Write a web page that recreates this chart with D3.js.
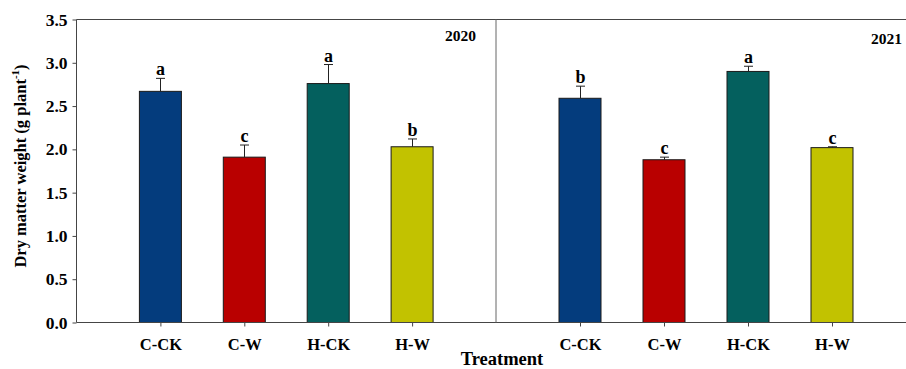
<!DOCTYPE html>
<html>
<head>
<meta charset="utf-8">
<script src="https://cdn.jsdelivr.net/npm/d3@7"></script>
<style>
  html, body { margin: 0; padding: 0; background: #fff; }
  svg { display: block; }
  text { font-family: "Liberation Serif", "Times New Roman", serif; font-weight: bold; fill: #000; }
</style>
</head>
<body>
<svg id="chart" width="906" height="369"></svg>
<script>
// Treatments and dry matter weight (g plant^-1), mean and standard error per year
const treatments = ["C-CK", "C-W", "H-CK", "H-W"];
const barColors = ["#043C7D", "#B90000", "#04605E", "#C2C200"];
const years = ["2020", "2021"];
const mean2020 = [2.67, 1.91, 2.76, 2.03];
const err2020 = [0.15, 0.14, 0.22, 0.09];
const sig2020 = ["a", "c", "a", "b"];
const mean2021 = [2.59, 1.88, 2.90, 2.02];
const err2021 = [0.14, 0.03, 0.06, 0.01];
const sig2021 = ["b", "c", "a", "c"];
const yTicks = [0, 0.5, 1.0, 1.5, 2.0, 2.5, 3.0, 3.5];

const svg = d3.select("#chart");
const lineColor = "#454545";
const plotTop = 19.5, plotBottom = 322.5;

const y = d3.scaleLinear().domain([0, 3.5]).range([plotBottom, plotTop]);

const panels = [
  { year: years[0], mean: mean2020, err: err2020, sig: sig2020, x0: 76.5, x1: 496, yearX: 476, yearY: 41 },
  { year: years[1], mean: mean2021, err: err2021, sig: sig2021, x0: 496, x1: 916, yearX: 902, yearY: 44 }
];

const barW = 42;

panels.forEach(p => {
  // positions 1..4 inside a 0..5 frame
  const x = d3.scaleLinear().domain([0, 5]).range([p.x0, p.x1]);
  const g = svg.append("g");

  // bars
  g.selectAll("rect.bar").data(treatments).join("rect")
    .attr("class", "bar")
    .attr("x", (d, i) => x(i + 1) - barW / 2)
    .attr("y", (d, i) => y(p.mean[i]))
    .attr("width", barW)
    .attr("height", (d, i) => y(0) - y(p.mean[i]))
    .attr("fill", (d, i) => barColors[i])
    .attr("stroke", "#1a1a1a")
    .attr("stroke-width", 1);

  // error bars (upper only) with significance letters
  treatments.forEach((d, i) => {
    const cx = Math.round(x(i + 1)) + 0.5;
    const yt = y(p.mean[i] + p.err[i]);
    g.append("line").attr("x1", cx).attr("x2", cx)
      .attr("y1", y(p.mean[i])).attr("y2", yt)
      .attr("stroke", "#222").attr("stroke-width", 1);
    g.append("line").attr("x1", cx - 4.5).attr("x2", cx + 4.5)
      .attr("y1", yt).attr("y2", yt)
      .attr("stroke", "#222").attr("stroke-width", 1);
    g.append("text")
      .attr("x", cx)
      .attr("y", yt - 3)
      .attr("text-anchor", "middle")
      .style("font-size", "18px")
      .text(p.sig[i]);
  });

  // frame: top line
  g.append("line").attr("x1", p.x0).attr("x2", p.x1).attr("y1", plotTop).attr("y2", plotTop)
    .attr("stroke", lineColor);

  // x axis with category ticks
  const xAxis = d3.axisBottom(x)
    .tickValues([1, 2, 3, 4])
    .tickSize(4)
    .tickPadding(12)
    .tickFormat(v => treatments[v - 1]);
  const ax = g.append("g").attr("transform", `translate(0,${plotBottom})`).call(xAxis);
  ax.select(".domain").attr("stroke", lineColor).attr("d", `M${p.x0},0H${p.x1}`);
  ax.selectAll(".tick line").attr("stroke", lineColor);
  ax.selectAll(".tick text").style("font-size", "16.5px");

  // year label
  g.append("text")
    .attr("x", p.yearX).attr("y", p.yearY)
    .attr("text-anchor", "end")
    .style("font-size", "15.5px")
    .text(p.year);
});

// shared vertical line between the two panels
svg.append("line").attr("x1", 496).attr("x2", 496).attr("y1", plotTop).attr("y2", plotBottom)
  .attr("stroke", "#666");

// y axis
const yAxis = d3.axisLeft(y)
  .tickValues(yTicks)
  .tickSize(4)
  .tickPadding(5)
  .tickFormat(d3.format(".1f"));
const ay = svg.append("g").attr("transform", "translate(76.5,0)").call(yAxis);
ay.select(".domain").attr("stroke", lineColor).attr("d", `M0,${plotTop}V${plotBottom}`);
ay.selectAll(".tick line").attr("stroke", lineColor);
ay.selectAll(".tick text").style("font-size", "17.5px");

// axis titles
const yTitle = svg.append("text")
  .attr("transform", "translate(26,166) rotate(-90)")
  .attr("text-anchor", "middle")
  .style("font-size", "16.5px");
yTitle.append("tspan").text("Dry matter weight (g plant");
yTitle.append("tspan").attr("dy", -7).style("font-size", "11px").text("-1");
yTitle.append("tspan").attr("dy", 7).text(")");

svg.append("text")
  .attr("x", 502).attr("y", 365)
  .attr("text-anchor", "middle")
  .style("font-size", "18.5px")
  .text("Treatment");
</script>
</body>
</html>
